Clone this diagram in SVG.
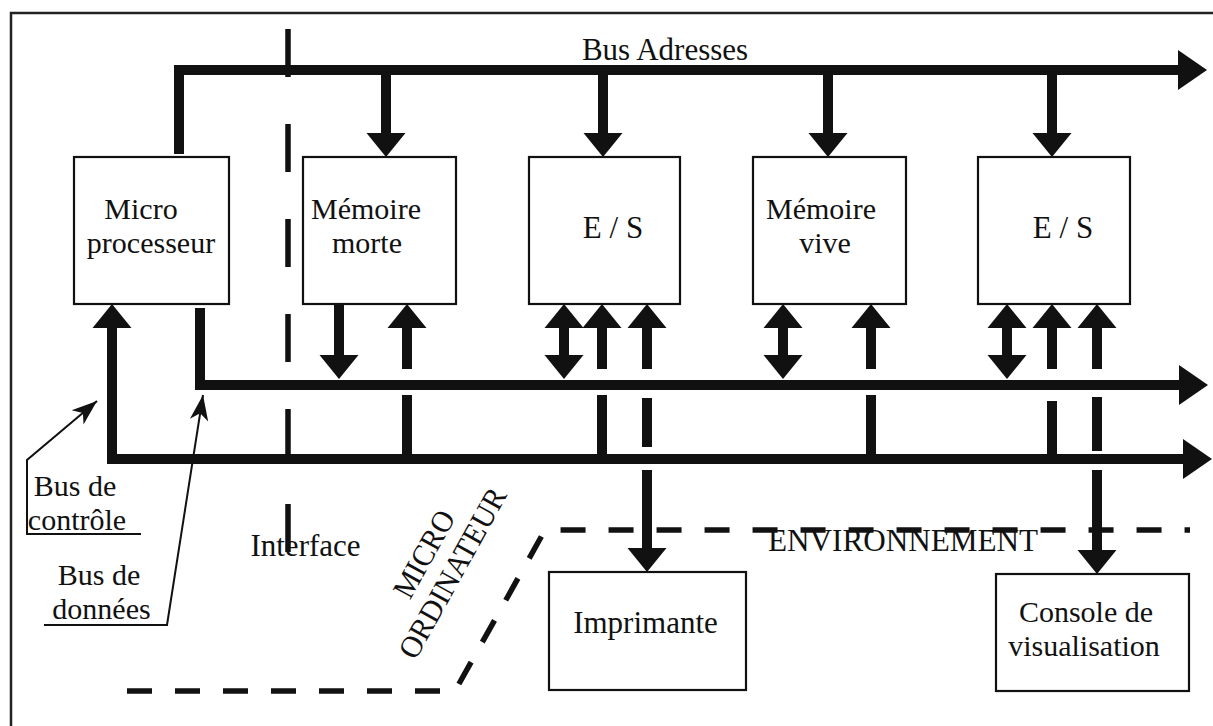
<svg xmlns="http://www.w3.org/2000/svg" width="1213" height="726" viewBox="0 0 1213 726">
<style>
.t{font-family:"Liberation Serif","Times New Roman",serif;font-size:31px;fill:#111}
.t2{font-size:30px}
.m{text-anchor:middle}
.box{fill:#fff;stroke:#111;stroke-width:2.2}
.bus{fill:none;stroke:#111;stroke-width:10;stroke-linejoin:miter}
.sh{stroke:#111;stroke-width:10}
.hd{fill:#111}
.thin{fill:none;stroke:#111;stroke-width:2}
.dash{fill:none;stroke:#111;stroke-width:5.5}
</style>
<defs>
<path id="h" class="hd" d="M-19.5,0 L19.5,0 L0,24 Z"/>
<path id="hb" class="hd" d="M-20,0 L20,0 L0,29 Z"/>
<marker id="pt" markerUnits="userSpaceOnUse" markerWidth="30" markerHeight="30" refX="0" refY="0" viewBox="-24 -10 26 20" orient="auto" overflow="visible">
<path d="M0,0 L-22,-8 L-16,0 L-22,8 Z" fill="#111"/>
</marker>
</defs>
<rect width="1213" height="726" fill="#fff"/>
<path d="M11,726 V13 H1213" fill="none" stroke="#222" stroke-width="2.5"/>

<g id="boundaries">
<line class="dash" x1="288" y1="29" x2="288" y2="552" stroke-dasharray="48 47"/>
<polyline class="dash" points="127,691 455,691 545,530 1190,530" stroke-dasharray="25 23"/>
</g>

<g id="connectors">
<!-- address bus -->
<polyline class="bus" points="179,154 179,70 1178,70"/>
<use href="#hb" transform="translate(1178,70) rotate(-90)"/>
<line class="sh" x1="386" y1="70" x2="386" y2="134"/><use href="#h" transform="translate(386,133)"/>
<line class="sh" x1="603" y1="70" x2="603" y2="134"/><use href="#h" transform="translate(603,133)"/>
<line class="sh" x1="828" y1="70" x2="828" y2="134"/><use href="#h" transform="translate(828,133)"/>
<line class="sh" x1="1052" y1="70" x2="1052" y2="134"/><use href="#h" transform="translate(1052,133)"/>
<!-- data bus -->
<polyline class="bus" points="200,308 200,385 1180,385"/>
<use href="#hb" transform="translate(1179,385) rotate(-90)"/>
<!-- control bus -->
<polyline class="bus" points="112,328 112,459 1184,459"/>
<use href="#hb" transform="translate(1183,459) rotate(-90)"/>
<use href="#h" transform="translate(112,328) rotate(180)"/>
<!-- memoire morte -->
<line class="sh" x1="339" y1="304" x2="339" y2="356"/><use href="#h" transform="translate(339,355)"/>
<use href="#h" transform="translate(407,328) rotate(180)"/>
<line class="sh" x1="407" y1="327" x2="407" y2="369"/><line class="sh" x1="407" y1="395" x2="407" y2="459"/>
<!-- E/S 1 -->
<use href="#h" transform="translate(564,328) rotate(180)"/>
<line class="sh" x1="564" y1="327" x2="564" y2="356"/><use href="#h" transform="translate(564,355)"/>
<use href="#h" transform="translate(602,328) rotate(180)"/>
<line class="sh" x1="602" y1="327" x2="602" y2="369"/><line class="sh" x1="602" y1="395" x2="602" y2="459"/>
<use href="#h" transform="translate(647,328) rotate(180)"/>
<line class="sh" x1="647" y1="327" x2="647" y2="369"/><line class="sh" x1="647" y1="398" x2="647" y2="447"/>
<line class="sh" x1="647" y1="470" x2="647" y2="549"/><use href="#h" transform="translate(647,548)"/>
<!-- memoire vive -->
<use href="#h" transform="translate(783,328) rotate(180)"/>
<line class="sh" x1="783" y1="327" x2="783" y2="356"/><use href="#h" transform="translate(783,355)"/>
<use href="#h" transform="translate(871,328) rotate(180)"/>
<line class="sh" x1="871" y1="327" x2="871" y2="369"/><line class="sh" x1="871" y1="395" x2="871" y2="459"/>
<!-- E/S 2 -->
<use href="#h" transform="translate(1007,328) rotate(180)"/>
<line class="sh" x1="1007" y1="327" x2="1007" y2="356"/><use href="#h" transform="translate(1007,355)"/>
<use href="#h" transform="translate(1052,328) rotate(180)"/>
<line class="sh" x1="1052" y1="327" x2="1052" y2="369"/><line class="sh" x1="1052" y1="401" x2="1052" y2="459"/>
<use href="#h" transform="translate(1097,328) rotate(180)"/>
<line class="sh" x1="1097" y1="327" x2="1097" y2="369"/><line class="sh" x1="1097" y1="397" x2="1097" y2="451"/>
<line class="sh" x1="1097" y1="470" x2="1097" y2="551"/><use href="#h" transform="translate(1097,550)"/>
<!-- label pointers -->
<polyline class="thin" points="141,534 27,534 27,460 97,401" marker-end="url(#pt)"/>
<polyline class="thin" points="44,625 167,625 203,395" marker-end="url(#pt)"/>
</g>

<g id="n-micro"><rect class="box" x="74" y="157" width="155" height="147"/>
<text class="t t2 m" x="141" y="219">Micro</text><text class="t t2 m" x="151" y="253">processeur</text></g>
<g id="n-memoire-morte"><rect class="box" x="303" y="157" width="153" height="147"/>
<text class="t t2 m" x="366" y="219">Mémoire</text><text class="t t2 m" x="367" y="253">morte</text></g>
<g id="n-es1"><rect class="box" x="529" y="157" width="151" height="147"/>
<text class="t m" x="613" y="238">E / S</text></g>
<g id="n-memoire-vive"><rect class="box" x="753" y="157" width="153" height="147"/>
<text class="t t2 m" x="821" y="219">Mémoire</text><text class="t t2 m" x="825" y="253">vive</text></g>
<g id="n-es2"><rect class="box" x="978" y="157" width="152" height="147"/>
<text class="t m" x="1063" y="238">E / S</text></g>
<g id="n-imprimante"><rect class="box" x="549" y="572" width="197" height="118"/>
<text class="t m" x="645.5" y="633">Imprimante</text></g>
<g id="n-console"><rect class="box" x="996" y="574" width="193" height="117"/>
<text class="t t2 m" x="1086" y="622">Console de</text><text class="t t2 m" x="1084" y="656">visualisation</text></g>

<g id="labels">
<text class="t m" x="665" y="60">Bus Adresses</text>
<text class="t t2 m" x="75" y="496">Bus de</text>
<text class="t t2 m" x="77" y="530">contrôle</text>
<text class="t t2 m" x="99" y="585">Bus de</text>
<text class="t t2 m" x="101.5" y="619">données</text>
<text class="t m" x="305.5" y="556">Interface</text>
<text class="t" x="768" y="551" textLength="270" lengthAdjust="spacingAndGlyphs">ENVIRONNEMENT</text>
<text class="t m" transform="translate(433,559) rotate(-61)" textLength="95" lengthAdjust="spacingAndGlyphs">MICRO</text>
<text class="t m" transform="translate(461.5,578) rotate(-61)" textLength="190" lengthAdjust="spacingAndGlyphs">ORDINATEUR</text>
</g>
</svg>
